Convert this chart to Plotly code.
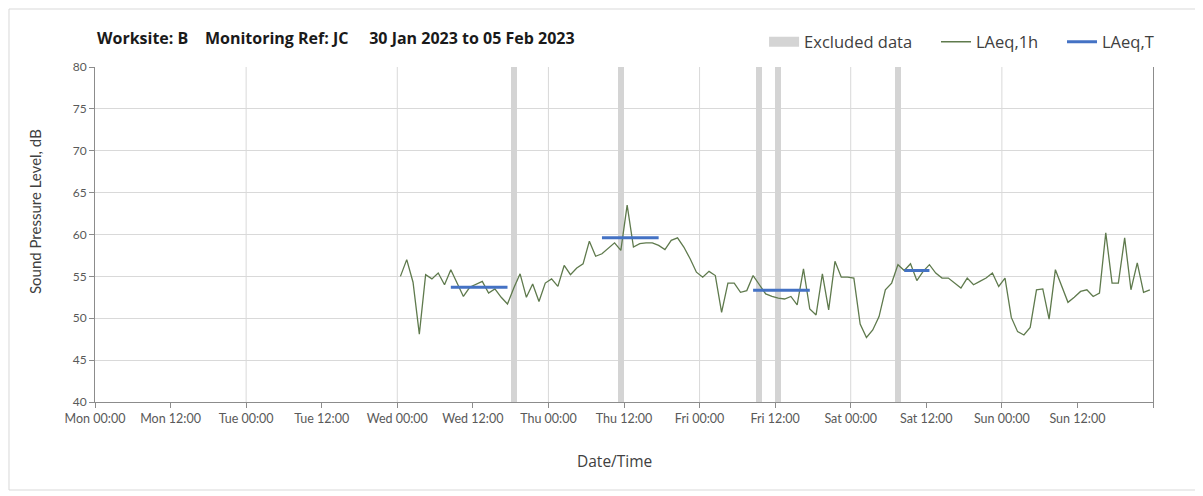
import pandas as pd
import plotly.graph_objects as go

# ---------------- data ----------------
axis_start = "2023-01-30 00:00"
axis_end = "2023-02-06 00:00"
data_start = "2023-02-01 00:00"   # first hourly sample (Wed 00:00)

laeq_1h = [
    # Wed
    55.0, 57.0, 54.3, 48.1, 55.2, 54.7, 55.4, 54.0, 55.8, 54.1, 52.6, 53.7,
    54.1, 54.4, 53.0, 53.5, 52.5, 51.7, 53.6, 55.3, 52.5, 54.1, 52.0, 54.2,
    # Thu
    54.7, 53.8, 56.3, 55.2, 56.0, 56.5, 59.2, 57.4, 57.7, 58.4, 59.0, 58.1,
    63.5, 58.5, 58.9, 59.0, 59.0, 58.7, 58.2, 59.3, 59.6, 58.5, 57.1, 55.5,
    # Fri
    54.9, 55.6, 55.1, 50.7, 54.2, 54.2, 53.1, 53.3, 55.1, 54.0, 52.9, 52.6,
    52.4, 52.3, 52.6, 51.6, 55.9, 51.1, 50.4, 55.3, 51.0, 56.8, 54.9, 54.9,
    # Sat
    54.8, 49.3, 47.7, 48.6, 50.2, 53.4, 54.2, 56.4, 55.7, 56.5, 54.5, 55.6,
    56.4, 55.4, 54.8, 54.8, 54.2, 53.6, 54.8, 54.0, 54.4, 54.8, 55.4, 53.8,
    # Sun
    54.8, 50.1, 48.4, 48.0, 48.9, 53.4, 53.5, 49.9, 55.8, 53.9, 51.9, 52.5,
    53.2, 53.4, 52.6, 53.0, 60.2, 54.2, 54.2, 59.6, 53.4, 56.6, 53.1, 53.4,
]

# LAeq,T periods (first hour, last hour, level)
period_start = ["2023-02-01 08:00", "2023-02-02 08:00", "2023-02-03 08:00", "2023-02-04 08:00"]
period_end = ["2023-02-01 17:00", "2023-02-02 17:00", "2023-02-03 17:00", "2023-02-04 12:00"]
period_level = [53.7, 59.6, 53.35, 55.7]

# excluded hours
excluded_hours = ["2023-02-01 18:00", "2023-02-02 11:00", "2023-02-03 09:00",
                  "2023-02-03 12:00", "2023-02-04 07:00"]

y_min, y_max, y_step = 40, 80, 5
title_text = "Worksite: B\u00a0\u00a0\u00a0 Monitoring Ref: JC\u00a0\u00a0\u00a0\u00a0 30 Jan 2023 to 05 Feb 2023"

# ---------------- build ----------------
half_hour = pd.Timedelta(minutes=30)
times = pd.date_range(data_start, periods=len(laeq_1h), freq="h") + half_hour

ex_centers = pd.to_datetime(excluded_hours) + half_hour
bar_width_ms = 0.95 * 3600 * 1000

bx, by = [], []
for s, e, lv in zip(period_start, period_end, period_level):
    bx += [pd.Timestamp(s) + half_hour, pd.Timestamp(e) + half_hour, None]
    by += [lv, lv, None]

FONT = "Lato, 'Open Sans', sans-serif"
FONT2 = "'Open Sans', Lato, sans-serif"
GRID = "#d9d9d9"
AXIS = "#8c8c8c"
EXCL = "#d4d4d4"

fig = go.Figure()
fig.add_trace(go.Bar(
    x=ex_centers, y=[y_max - y_min] * len(ex_centers), base=y_min,
    width=[bar_width_ms] * len(ex_centers),
    marker=dict(color=EXCL, line=dict(width=0)),
    name="Excluded data", hoverinfo="skip", showlegend=False, legendgroup="ex",
))
# legend key for the excluded bands (wide grey swatch)
fig.add_trace(go.Scatter(
    x=[None], y=[None], mode="lines", name="Excluded data", legendgroup="ex",
    line=dict(color=EXCL, width=10), legend="legend",
))
fig.add_trace(go.Scatter(
    x=times, y=laeq_1h, mode="lines", name="LAeq,1h",
    line=dict(color="#5f7a4d", width=1.3), legend="legend2",
))
fig.add_trace(go.Scatter(
    x=bx, y=by, mode="lines", name="LAeq,T",
    line=dict(color="#4472c4", width=3), connectgaps=False, legend="legend3",
))

# ticks every 12 h, gridlines every 24 h
tick_vals = pd.date_range(axis_start, axis_end, freq="12h")
tick_text = [t.strftime("%a %H:%M") for t in tick_vals]
tick_text[-1] = ""
day_lines = pd.date_range(axis_start, axis_end, freq="24h")
shapes = [dict(type="line", xref="x", yref="paper", x0=d, x1=d, y0=0, y1=1,
               line=dict(color=GRID, width=1), layer="below") for d in day_lines[1:-1]]
# chart border
shapes.append(dict(type="rect", xref="paper", yref="paper",
                   x0=-0.0813, x1=1.06, y0=-0.2627, y1=1.1731,
                   line=dict(color="#d9d9d9", width=1), fillcolor="rgba(0,0,0,0)", layer="below"))

leg_common = dict(orientation="h", y=1.0746, yanchor="middle", xanchor="left",
                  font=dict(size=16.5, color="#404040", family=FONT2),
                  bgcolor="rgba(0,0,0,0)", itemwidth=30, borderwidth=0)

fig.update_layout(
    width=1195, height=488,
    margin=dict(l=87, r=50, t=59, b=94),
    paper_bgcolor="white", plot_bgcolor="white",
    font=dict(family=FONT, color="#404040", size=12),
    showlegend=True,
    legend=dict(x=0.6324, **leg_common),
    legend2=dict(x=0.7949, **leg_common),
    legend3=dict(x=0.9140, **leg_common),
    bargap=0,
    shapes=shapes,
    annotations=[
        dict(text="<b>" + title_text + "</b>", xref="paper", yref="paper",
             x=0, y=1.0866, xanchor="left", yanchor="middle", showarrow=False,
             font=dict(size=16, color="#1a1a1a", family=FONT2)),
        dict(text="Date/Time", xref="paper", yref="paper",
             x=0.491, y=-0.176, xanchor="center", yanchor="middle", showarrow=False,
             font=dict(size=15.5, color="#404040", family=FONT2)),
        dict(text="Sound Pressure Level, dB", xref="paper", yref="paper",
             x=-0.0567, y=0.567, xanchor="center", yanchor="middle", showarrow=False,
             textangle=-90, font=dict(size=15, color="#404040", family=FONT)),
    ],
    xaxis=dict(
        type="date", range=[axis_start, axis_end],
        tickmode="array", tickvals=tick_vals, ticktext=tick_text,
        showgrid=False, zeroline=False,
        showline=True, linecolor=AXIS, linewidth=1,
        ticks="outside", ticklen=5, tickcolor=AXIS,
        tickfont=dict(size=12.5, color="#595959"),
    ),
    yaxis=dict(
        range=[y_min, y_max], dtick=y_step, tick0=y_min,
        showgrid=True, gridcolor=GRID, gridwidth=1, zeroline=False,
        showline=True, linecolor=AXIS, linewidth=1, mirror=True,
        ticks="outside", ticklen=5, tickcolor=AXIS,
        tickfont=dict(size=12, color="#595959"),
    ),
)

fig.write_html("out.html")
